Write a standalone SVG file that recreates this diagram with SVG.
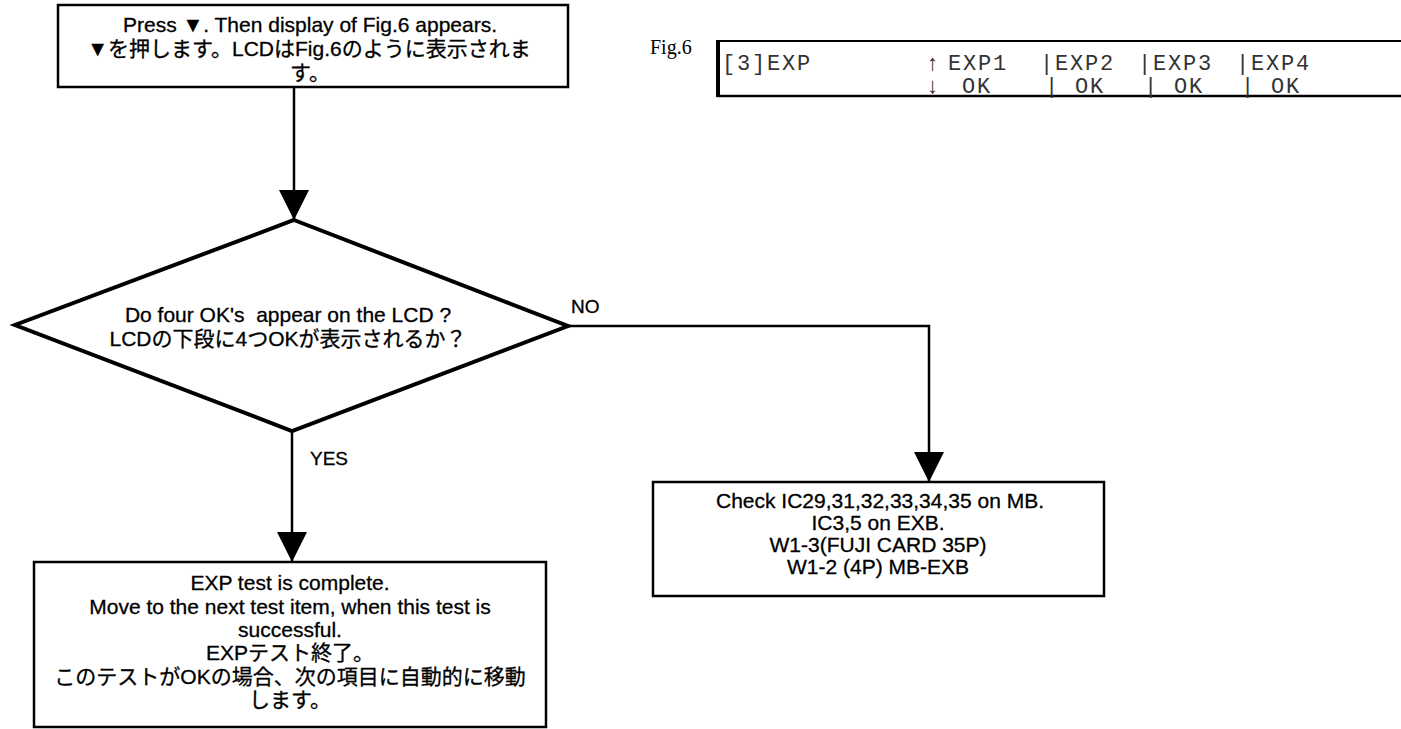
<svg xmlns="http://www.w3.org/2000/svg" width="1401" height="729" viewBox="0 0 1401 729">
<defs>
<style>
.box{fill:#fff;stroke:#000;stroke-width:2.5}
.dia{fill:#fff;stroke:#000;stroke-width:4;stroke-linejoin:miter}
.t{font-family:"Liberation Sans","Noto Sans CJK JP",sans-serif;font-size:21px;fill:#000;stroke:#000;stroke-width:0.3;text-anchor:middle}
.lbl{font-family:"Liberation Sans",sans-serif;font-size:19px;fill:#000;stroke:#000;stroke-width:0.3}
.mono{font-family:"Liberation Mono",monospace;font-size:22px;letter-spacing:1.8px;fill:#333}
.fig{font-family:"Liberation Serif",serif;font-size:20px;fill:#000}
.ln{fill:none;stroke:#000;stroke-width:2.5}
</style>
<marker id="ah" markerUnits="userSpaceOnUse" markerWidth="30" markerHeight="30" viewBox="0 0 30 30" refX="30" refY="15" orient="auto">
<path d="M0,0 L30,15 L0,30 Z" fill="#000"/>
</marker>
</defs>
<rect width="1401" height="729" fill="#fff"/>
<g id="connectors">
<line class="ln" x1="294" y1="87" x2="294" y2="220" marker-end="url(#ah)"/>
<path class="ln" d="M568,326 H929 V482" marker-end="url(#ah)"/>
<line class="ln" x1="292" y1="431" x2="292" y2="562" marker-end="url(#ah)"/>
<text class="lbl" x="571" y="313">NO</text>
<text class="lbl" x="310" y="465">YES</text>
</g>
<g id="start">
<rect class="box" x="58" y="5" width="510" height="82"/>
<text class="t" x="310" y="32">Press ▼. Then display of Fig.6 appears.</text>
<text class="t" x="309" y="56">▼を押します。LCDはFig.6のように表示されま</text>
<text class="t" x="310" y="80">す。</text>
</g>
<g id="decision">
<polygon class="dia" points="294,220 568,326 292,431 15,325"/>
<text class="t" x="288" y="322" xml:space="preserve">Do four OK's  appear on the LCD ?</text>
<text class="t" x="288" y="346">LCDの下段に4つOKが表示されるか？</text>
</g>
<g id="check">
<rect class="box" x="653" y="482" width="451" height="114"/>
<text class="t" x="880" y="508">Check IC29,31,32,33,34,35 on MB.</text>
<text class="t" x="878" y="530">IC3,5 on EXB.</text>
<text class="t" x="878" y="552">W1-3(FUJI CARD 35P)</text>
<text class="t" x="878" y="574">W1-2 (4P) MB-EXB</text>
</g>
<g id="complete">
<rect class="box" x="34" y="562" width="512" height="165"/>
<text class="t" x="290" y="590">EXP test is complete.</text>
<text class="t" x="290" y="614">Move to the next test item, when this test is</text>
<text class="t" x="290" y="637">successful.</text>
<text class="t" x="290" y="660">EXPテスト終了。</text>
<text class="t" x="290" y="684">このテストがOKの場合、次の項目に自動的に移動</text>
<text class="t" x="290" y="707">します。</text>
</g>
<g id="fig6">
<text class="fig" x="650" y="54">Fig.6</text>
<line x1="717" y1="41" x2="1401" y2="41" stroke="#000" stroke-width="2"/>
<line x1="717" y1="96" x2="1401" y2="96" stroke="#000" stroke-width="2.5"/>
<line x1="718" y1="40" x2="718" y2="97" stroke="#000" stroke-width="4"/>
<text class="mono" x="722" y="70">[3]EXP</text>
<text class="mono" x="926" y="70">↑</text>
<text class="mono" x="948" y="70">EXP1</text>
<text class="mono" x="1040" y="70">|EXP2</text>
<text class="mono" x="1138" y="70">|EXP3</text>
<text class="mono" x="1236" y="70">|EXP4</text>
<text class="mono" x="926" y="93">↓</text>
<text class="mono" x="962" y="93">OK</text>
<text class="mono" x="1045" y="93">| OK</text>
<text class="mono" x="1144" y="93">| OK</text>
<text class="mono" x="1241" y="93">| OK</text>
</g>
</svg>
